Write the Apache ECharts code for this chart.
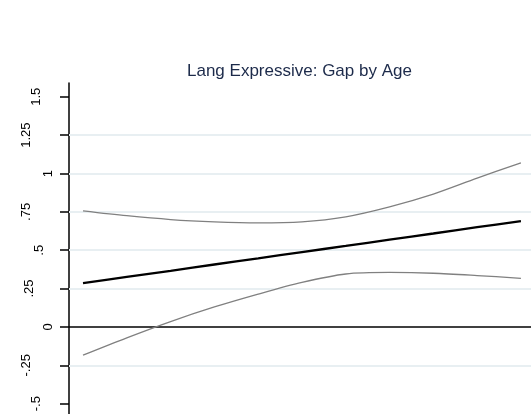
<!DOCTYPE html>
<html>
<head>
<meta charset="utf-8">
<script src="https://cdn.jsdelivr.net/npm/echarts@6/dist/echarts.min.js"></script>
<style>
    html, body { margin: 0; padding: 0; background: #fff; }
</style>
</head>
<body>
<div id="gapchart" style="width: 531px;height: 414px;"></div>

<script type="text/javascript">
    // age grid points (evenly spaced along the x axis)
    var agePoints = [0, 1, 2, 3, 4, 5, 6, 7, 8, 9, 10];
    // estimated gap and its confidence band
    var gapValues = [0.285, 0.326, 0.366, 0.407, 0.447, 0.488, 0.528, 0.569, 0.609, 0.650, 0.690];
    var upperValues = [0.757, 0.725, 0.700, 0.685, 0.678, 0.685, 0.718, 0.783, 0.866, 0.970, 1.070];
    var lowerValues = [-0.184, -0.071, 0.035, 0.130, 0.214, 0.290, 0.345, 0.355, 0.350, 0.335, 0.317];
    // y tick values and their Stata style labels
    var yTickValues = [-0.5, -0.25, 0, 0.25, 0.5, 0.75, 1, 1.25, 1.5];
    var yTickLabels = ['-.5', '-.25', '0', '.25', '.5', '.75', '1', '1.25', '1.5'];
    // light horizontal grid lines
    var gridValues = [-0.25, 0.25, 0.5, 0.75, 1, 1.25];

    // how far each rotated label sits away from the axis
    var labelPad = {'1': 0, '0': 0, '.5': 9, '1.5': 12, '-.5': 12, '.25': 19, '.75': 22, '1.25': 22, '-.25': 22};
    var richStyles = {};
    yTickLabels.forEach(function (t, i) {
        richStyles['t' + i] = {
            fontSize: 13,
            color: '#000',
            fontFamily: 'Liberation Sans, Arial, sans-serif',
            padding: [0, 0, labelPad[t], 0]
        };
    });

    function toPairs(vals) {
        var out = [];
        for (var i = 0; i < agePoints.length; i++) {
            out.push([agePoints[i], vals[i]]);
        }
        return out;
    }

    var chart = echarts.init(document.getElementById("gapchart"));
    var option = {
        animation: false,
        backgroundColor: '#ffffff',
        title: {
            text: 'Lang Expressive: Gap by Age',
            left: 182,
            top: 58,
            textStyle: {
                fontFamily: 'Liberation Sans, Arial, sans-serif',
                fontSize: 17,
                fontWeight: 'normal',
                color: '#1c2a4a'
            }
        },
        grid: {
            left: 69,
            right: 0,
            top: 83,
            bottom: -28,
            containLabel: false,
            outerBoundsMode: 'none'
        },
        xAxis: {
            type: 'value',
            min: -0.32,
            max: 10.23,
            show: false
        },
        yAxis: {
            type: 'value',
            min: -0.75,
            max: 1.59,
            interval: 0.25,
            axisLine: {
                show: true,
                onZero: false,
                lineStyle: {color: '#000', width: 1.5}
            },
            axisTick: {
                show: true,
                length: 9,
                customValues: yTickValues,
                lineStyle: {color: '#000', width: 1.5}
            },
            axisLabel: {
                rotate: 90,
                margin: 14,
                customValues: yTickValues,
                formatter: function (v) {
                    for (var i = 0; i < yTickValues.length; i++) {
                        if (Math.abs(v - yTickValues[i]) < 1e-6) {
                            return '{t' + i + '|' + yTickLabels[i] + '}';
                        }
                    }
                    return '';
                },
                rich: richStyles
            },
            splitLine: {show: false}
        },
        series: [
            {
                name: 'grid',
                type: 'line',
                data: [],
                z: 1,
                markLine: {
                    silent: true,
                    z: 1,
                    symbol: 'none',
                    label: {show: false},
                    lineStyle: {color: '#e8eff2', width: 2, type: 'solid'},
                    data: gridValues.map(function (v) { return {yAxis: v}; })
                }
            },
            {
                name: 'zero',
                type: 'line',
                data: [],
                z: 2,
                markLine: {
                    silent: true,
                    z: 2,
                    symbol: 'none',
                    label: {show: false},
                    lineStyle: {color: '#000', width: 1.5, type: 'solid'},
                    data: [{yAxis: 0}]
                }
            },
            {
                name: 'upper',
                type: 'line',
                data: toPairs(upperValues),
                smooth: 0.3,
                symbol: 'none',
                lineStyle: {color: '#808080', width: 1.3},
                z: 3
            },
            {
                name: 'lower',
                type: 'line',
                data: toPairs(lowerValues),
                smooth: 0.3,
                symbol: 'none',
                lineStyle: {color: '#808080', width: 1.3},
                z: 3
            },
            {
                name: 'gap',
                type: 'line',
                data: toPairs(gapValues),
                smooth: 0.3,
                symbol: 'none',
                lineStyle: {color: '#000', width: 2.3},
                z: 4
            }
        ]
    };
    chart.setOption(option);
</script>
</body>
</html>
